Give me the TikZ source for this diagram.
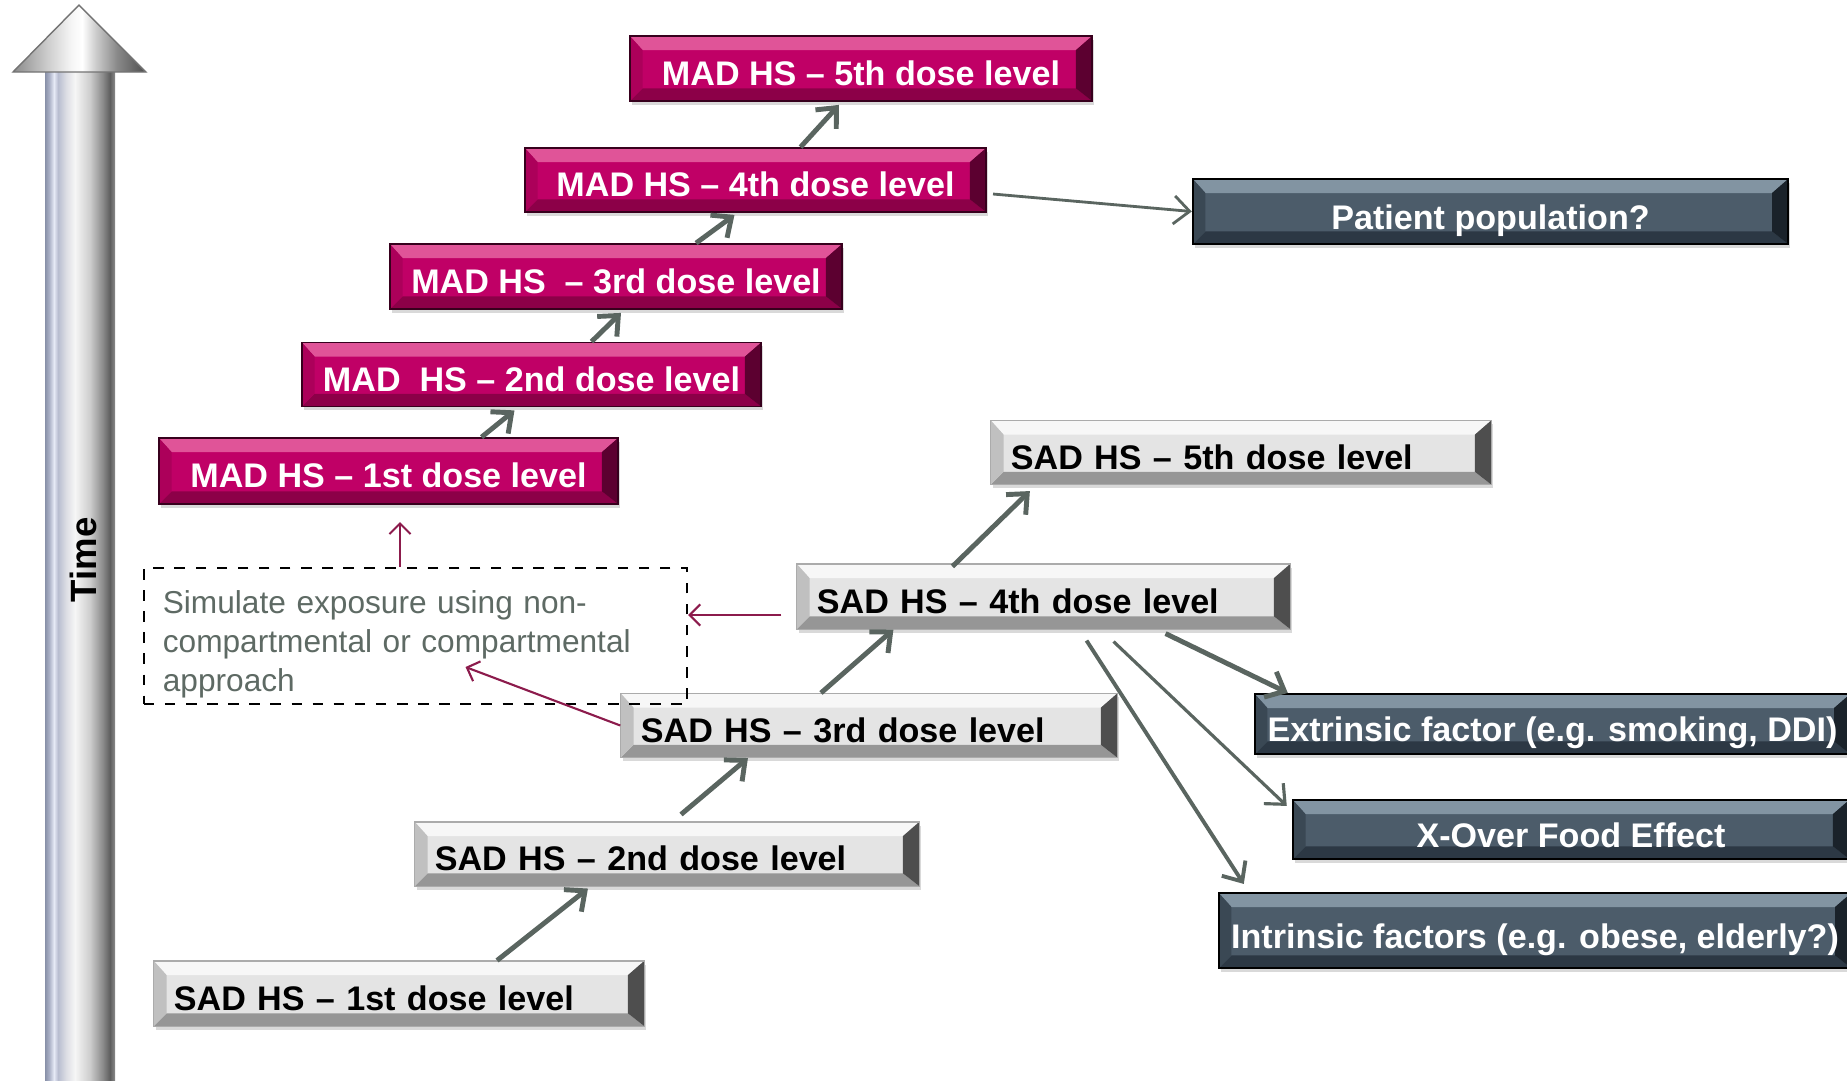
\documentclass[tikz,border=0pt]{standalone}
\usepackage{fontspec}
\setmainfont{Liberation Sans}
\usetikzlibrary{arrows.meta,shadows}

\definecolor{madface}{RGB}{192,0,102}
\definecolor{madtop}{RGB}{224,84,152}
\definecolor{madbot}{RGB}{140,0,72}
\definecolor{madleft}{RGB}{172,0,90}
\definecolor{madright}{RGB}{92,0,48}
\definecolor{sadface}{RGB}{228,228,228}
\definecolor{sadtop}{RGB}{247,247,247}
\definecolor{sadbot}{RGB}{150,150,150}
\definecolor{sadleft}{RGB}{192,192,192}
\definecolor{sadright}{RGB}{78,78,78}
\definecolor{darkface}{RGB}{76,92,106}
\definecolor{darktop}{RGB}{130,148,162}
\definecolor{darkbot}{RGB}{44,56,68}
\definecolor{darkleft}{RGB}{58,72,84}
\definecolor{darkright}{RGB}{26,34,42}
\definecolor{steparrow}{RGB}{90,101,96}
\definecolor{simred}{RGB}{140,27,76}
\definecolor{simtext}{RGB}{94,106,100}
\definecolor{shA}{RGB}{136,144,168}
\definecolor{shB}{RGB}{170,176,198}
\definecolor{shC}{RGB}{230,234,246}
\definecolor{shD}{RGB}{184,189,208}
\definecolor{shE}{RGB}{220,221,228}
\definecolor{shF}{RGB}{246,246,246}
\definecolor{shG}{RGB}{205,205,205}
\definecolor{shH}{RGB}{138,138,138}
\definecolor{shI}{RGB}{94,94,94}

% silver shaft and head of the time axis
\pgfdeclarehorizontalshading{timeshaft}{100bp}{color(0bp)=(shA); color(25bp)=(shA);
  color(28bp)=(shB); color(31.4bp)=(shC); color(34.3bp)=(shD); color(40bp)=(shE);
  color(46.4bp)=(shF); color(57.1bp)=(shG); color(66.4bp)=(shH);
  color(71.4bp)=(shI); color(75bp)=(shH); color(100bp)=(shH)}
\pgfdeclarehorizontalshading{timehead}{100bp}{color(0bp)=(shH); color(25bp)=(shH);
  color(38bp)=(shG); color(47bp)=(shF); color(51bp)=(white); color(56bp)=(shG);
  color(64bp)=(shH); color(72bp)=(shI); color(75bp)=(black!70); color(100bp)=(black!70)}

\tikzset{
  bevel/.style n args={5}{
    fill=#1,
    path picture={
      \path (path picture bounding box.north west) coordinate (p1)
            (path picture bounding box.north east) coordinate (p2)
            (path picture bounding box.south east) coordinate (p3)
            (path picture bounding box.south west) coordinate (p4);
      \path ([shift={(3.6pt,-4pt)}]p1) coordinate (q1)
            ([shift={(-4.6pt,-4pt)}]p2) coordinate (q2)
            ([shift={(-4.6pt,3.6pt)}]p3) coordinate (q3)
            ([shift={(3.6pt,3.6pt)}]p4) coordinate (q4);
      \fill[#2] (p1) -- (p2) -- (q2) -- (q1) -- cycle;
      \fill[#3] (p4) -- (p3) -- (q3) -- (q4) -- cycle;
      \fill[#4] (p1) -- (q1) -- (q4) -- (p4) -- cycle;
      \fill[#5] (p2) -- (q2) -- (q3) -- (p3) -- cycle;
    }
  },
  dosebox/.style={rectangle, minimum height=0.64cm, inner sep=0pt,
    text height=9.6pt, text depth=0pt,
    font=\fontsize{9.7}{11}\selectfont\bfseries,
    drop shadow={shadow xshift=0.6pt, shadow yshift=-1pt, opacity=0.3}},
  madbox/.style={dosebox, bevel={madface}{madtop}{madbot}{madleft}{madright}, text=white,
    draw=madright!60!black, line width=0.5pt},
  sadbox/.style={dosebox, bevel={sadface}{sadtop}{sadbot}{sadleft}{sadright}, text=black,
    draw=sadbot!80, line width=0.3pt, inner xsep=0.2cm, align=left},
  darkbox/.style={dosebox, bevel={darkface}{darktop}{darkbot}{darkleft}{darkright}, text=white,
    draw=black, line width=0.6pt, text height=10.2pt},
  stepup/.style={draw=steparrow, line width=1.4pt, -{Straight Barb[length=4.5pt,width=8pt]}},
  simarrow/.style={draw=simred, line width=0.6pt, -{Straight Barb[length=3pt,width=6pt]}}
}

\begin{document}
\begin{tikzpicture}[x=0.01cm, y=-0.01cm]
  \useasboundingbox (0,0) rectangle (1847,1081);

  % time axis
  \shade[shading=timeshaft] (45,70) rectangle (115,1090);
  \shade[shading=timehead] (13,72) -- (79,5) -- (146,72) -- cycle;
  \draw[black!55, line width=0.4pt] (13,72) -- (79,5) -- (146,72) -- cycle;
  \node[rotate=90, font=\fontsize{10.4}{12}\selectfont\bfseries] (time) at (83,560) {Time};

  % MAD steps
  \node[madbox, minimum width=4.62cm, minimum height=0.65cm] (mad5) at (861,68.5) {MAD HS – 5th dose level};
  \node[madbox, minimum width=4.61cm] (mad4) at (755.5,180) {MAD HS – 4th dose level};
  \node[madbox, minimum width=4.52cm, minimum height=0.65cm] (mad3) at (616,276.5) {MAD HS\ \ – 3rd dose level};
  \node[madbox, minimum width=4.59cm] (mad2) at (531.5,374.5) {MAD\ \ HS – 2nd dose level};
  \node[madbox, minimum width=4.59cm, minimum height=0.66cm] (mad1) at (388.5,471) {MAD HS – 1st dose level};

  % SAD steps
  \node[sadbox, text width=4.6cm] (sad5) at (1241,452.5) {SAD HS – 5th dose level};
  \node[sadbox, text width=4.53cm, minimum height=0.65cm] (sad4) at (1043.5,596.5) {SAD HS – 4th dose level};
  \node[sadbox, text width=4.56cm] (sad3) at (869,725.5) {SAD HS – 3rd dose level};
  \node[sadbox, text width=4.64cm] (sad2) at (667,854) {SAD HS – 2nd dose level};
  \node[sadbox, text width=4.5cm, minimum height=0.65cm] (sad1) at (399,993.5) {SAD HS – 1st dose level};

  % follow-up studies
  \node[darkbox, minimum width=5.95cm, minimum height=0.65cm] (patient) at (1490.5,211.5) {Patient population?};
  \node[darkbox, minimum width=5.95cm, minimum height=0.6cm] (extr) at (1552.5,724) {Extrinsic factor (e.g. smoking, DDI)};
  \node[darkbox, minimum width=5.56cm, minimum height=0.59cm] (xover) at (1571,829.5) {X-Over Food Effect};
  \node[darkbox, minimum width=6.32cm, minimum height=0.75cm] (intr) at (1535,930.5) {Intrinsic factors (e.g. obese, elderly?)};

  % simulation note
  \node[draw, dashed, line width=0.6pt, minimum width=5.43cm, minimum height=1.36cm, inner xsep=0.19cm,
        inner ysep=0pt, text width=5.05cm, align=left, text=simtext, font=\fontsize{9}{11.1}\selectfont]
        (sim) at (415.5,636)
        {\rule{0pt}{11.2pt}Simulate exposure using non-\\compartmental or compartmental\\approach};

  \draw[stepup] ([xshift=0.98cm]sad1.north) -- ([shift={(-0.79cm,-0.02cm)}]sad2.south);
  \draw[stepup] ([shift={(0.14cm,0.07cm)}]sad2.north) -- ([xshift=-1.21cm]sad3.south);
  \draw[stepup] ([xshift=-0.48cm]sad3.north) -- ([xshift=-1.5cm]sad4.south);
  \draw[stepup] ([shift={(-0.91cm,-0.03cm)}]sad4.north) -- ([shift={(-2.11cm,-0.06cm)}]sad5.south);

  \draw[stepup] ([xshift=0.93cm]mad1.north) -- ([shift={(-0.17cm,-0.03cm)}]mad2.south);
  \draw[stepup] ([xshift=0.6cm]mad2.north) -- ([shift={(0.05cm,-0.03cm)}]mad3.south);
  \draw[stepup] ([xshift=0.8cm]mad3.north) -- ([shift={(-0.21cm,-0.02cm)}]mad4.south);
  \draw[stepup] ([xshift=0.45cm]mad4.north) -- ([shift={(-0.22cm,-0.03cm)}]mad5.south);

  \draw[stepup, line width=0.8pt] ([shift={(0.06cm,-0.14cm)}]mad4.east) -- (patient.west);
  \draw[stepup] ([shift={(1.22cm,-0.04cm)}]sad4.south) -- ([xshift=0.34cm]extr.north west);
  \draw[stepup, line width=0.9pt] ([shift={(0.7cm,-0.12cm)}]sad4.south) -- ([shift={(-0.05cm,-0.07cm)}]xover.north west);
  \draw[stepup, line width=1.1pt] ([shift={(0.43cm,-0.11cm)}]sad4.south) -- ([shift={(0.26cm,0.08cm)}]intr.north west);

  \coordinate (madin) at (400,522);
  \coordinate (s4out) at ([shift={(-0.15cm,-0.185cm)}]sad4.west);
  \draw[simarrow] (sim.north -| madin) -- (madin);
  \draw[simarrow] (s4out) -- (sim.east |- s4out);
  \draw[simarrow] (sad3.west) -- ([shift={(0.5cm,-0.31cm)}]sim.center);
\end{tikzpicture}
\end{document}
